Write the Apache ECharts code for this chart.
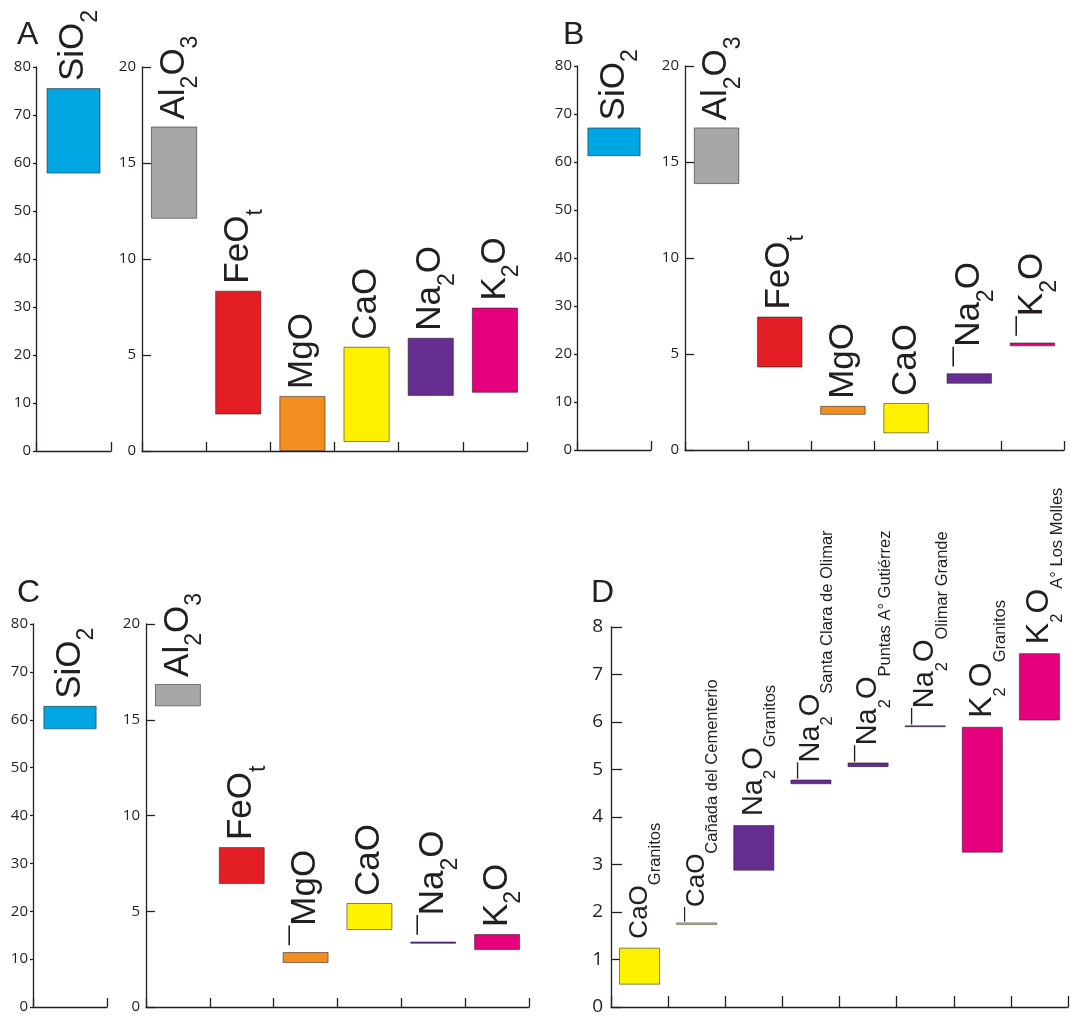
<!DOCTYPE html>
<html>
<head>
<meta charset="utf-8">
<script src="https://cdn.jsdelivr.net/npm/echarts@6/dist/echarts.min.js"></script>
<style>
html, body { margin: 0; padding: 0; background: #fff; }
#chart { width: 1070px; height: 1017px; }
</style>
</head>
<body>
<div id="chart"></div>
<script>
// panels A-C : SiO2 on its own 0-80 axis, the rest on a 0-20 axis
const oxides = ['SiO2', 'Al2O3', 'FeOt', 'MgO', 'CaO', 'Na2O', 'K2O'];
const oxideLabels = ['SiO_2', 'Al_2O_3', 'FeO_t', 'MgO', 'CaO', 'Na_2O', 'K_2O'];
const oxideColors = ['#00a6e2', '#a7a7a7', '#e31e25', '#f28d22', '#fff100', '#662d90', '#e6007e'];

const lowA = [57.8, 12.1, 1.9, 0, 0.47, 2.87, 3.03];
const highA = [75.6, 16.9, 8.35, 2.87, 5.43, 5.9, 7.47];
const lowB = [61.2, 13.85, 4.3, 1.83, 0.87, 3.45, 5.4];
const highB = [67.2, 16.8, 6.95, 2.3, 2.45, 4.0, 5.6];
const lowC = [58.0, 15.7, 6.42, 2.3, 4.02, 3.3, 2.98];
const highC = [62.9, 16.87, 8.35, 2.87, 5.43, 3.42, 3.81];

// little stroke in front of some labels (as in the original figure)
const marksA = [0, 0, 0, 0, 0, 0, 0];
const marksB = [0, 0, 0, 0, 0, 1, 1];
const marksC = [0, 0, 0, 1, 0, 1, 0];

const siTicks = { min: 0, max: 80, interval: 10 };
const oxTicks = { min: 0, max: 20, interval: 5 };

// panel D
const dOxides = ['CaO', 'CaO', 'Na_2O', 'Na_2O', 'Na_2O', 'Na_2O', 'K_2O', 'K_2O'];
const dPlaces = ['Granitos', 'Cañada del Cementerio', 'Granitos', 'Santa Clara de Olimar',
  'Puntas A° Gutiérrez', 'Olimar Grande', 'Granitos', 'A° Los Molles'];
const dLow = [0.47, 1.73, 2.87, 4.69, 5.05, 5.89, 3.25, 6.03];
const dHigh = [1.25, 1.78, 3.83, 4.79, 5.15, 5.93, 5.90, 7.45];
const dColors = ['#fff100', '#fff100', '#662d90', '#662d90', '#662d90', '#662d90', '#e6007e', '#e6007e'];
const dMarks = [0, 1, 0, 1, 1, 1, 0, 0];
const dTicks = { min: 0, max: 8, interval: 1 };

const INK = '#231f20';
const FONT = '"Liberation Sans", Arial, sans-serif';
const NUMFONT = '"Open Sans", sans-serif';

// font sizes of the oxide names in panel D
const dMainSize = { 'CaO': 26, 'Na_2O': 29, 'K_2O': 32 };
const dSubSize = 16.5;

const rich = {
  b: { fontFamily: FONT, fontSize: 35, lineHeight: 35, color: INK, verticalAlign: 'middle' },
  s: { fontFamily: FONT, fontSize: 23, lineHeight: 23, color: INK, verticalAlign: 'middle', padding: [34, 0, 0, 0] }
};
Object.keys(dMainSize).forEach(function (k) {
  const S = dMainSize[k];
  rich['m' + S] = { fontFamily: FONT, fontSize: S, lineHeight: S, color: INK, verticalAlign: 'middle' };
  rich['p' + S] = {
    fontFamily: FONT, fontSize: dSubSize, lineHeight: dSubSize, color: INK, verticalAlign: 'middle',
    padding: [Math.round(2 * (0.35 * S + 1 + 0.366 * dSubSize)), 0, 0, 0]
  };
});

// 'Al_2O_3' -> {b|Al}{s|2}{b|O}{s|3}
function richText(markup, mark, b, s) {
  let out = mark ? '{' + b + '|¯}' : '';
  markup.split(/(_.)/).forEach(function (p) {
    if (!p) return;
    out += p[0] === '_' ? '{' + s + '|' + p[1] + '}' : '{' + b + '|' + p + '}';
  });
  return out;
}

const grids = [];
const xAxes = [];
const yAxes = [];
const series = [];

function addPanel(box, cats, low, high, colors, labels, marks, ticks, opt) {
  const idx = grids.length;
  grids.push({ left: box[0], top: box[1], width: box[2], height: box[3], containLabel: false, outerBoundsMode: 'none' });
  xAxes.push({
    type: 'category', gridIndex: idx, data: cats,
    axisLine: { show: true, lineStyle: { color: INK, width: 1.3 } },
    axisTick: { show: true, inside: true, interval: 0, length: opt.xTick, lineStyle: { color: INK, width: 1.3 } },
    axisLabel: { show: false, interval: 0 }, splitLine: { show: false }
  });
  yAxes.push({
    type: 'value', gridIndex: idx, min: ticks.min, max: ticks.max, interval: ticks.interval,
    axisLine: { show: true, lineStyle: { color: INK, width: 1.3 } },
    axisTick: { show: opt.yTick > 0, inside: opt.yInside, length: opt.yTick, lineStyle: { color: INK, width: 1.3 } },
    axisLabel: { color: INK, fontFamily: NUMFONT, fontSize: opt.font, margin: opt.margin },
    splitLine: { show: false }
  });
  const stack = 'range' + idx;
  series.push({
    type: 'bar', xAxisIndex: idx, yAxisIndex: idx, stack: stack, barWidth: '72%', silent: true,
    itemStyle: { color: 'transparent' }, data: low
  });
  series.push({
    type: 'bar', xAxisIndex: idx, yAxisIndex: idx, stack: stack, barWidth: '72%',
    data: high.map(function (h, i) {
      return {
        value: +(h - low[i]).toFixed(3),
        itemStyle: { color: colors[i] },
        label: { distance: marks[i] ? opt.markDist : opt.dist }
      };
    }),
    itemStyle: { borderColor: 'rgba(35,31,32,0.55)', borderWidth: 1 },
    label: {
      show: true, position: 'top', distance: opt.dist, rotate: 90, align: 'left', verticalAlign: 'middle',
      formatter: function (p) { return labels[p.dataIndex]; }, rich: rich
    }
  });
}

function oxidePanel(siBox, oxBox, low, high, marks) {
  const labels = oxideLabels.map(function (l, i) { return richText(l, marks[i], 'b', 's'); });
  const sOpt = { xTick: 9, yTick: 3, yInside: false, font: 15, margin: 5, dist: 7, markDist: 7 };
  const oOpt = { xTick: 9, yTick: 9, yInside: true, font: 15, margin: 6, dist: 7, markDist: 7 };
  addPanel(siBox, oxides.slice(0, 1), low.slice(0, 1), high.slice(0, 1), oxideColors.slice(0, 1),
    labels.slice(0, 1), marks.slice(0, 1), siTicks, sOpt);
  addPanel(oxBox, oxides.slice(1), low.slice(1), high.slice(1), oxideColors.slice(1),
    labels.slice(1), marks.slice(1), oxTicks, oOpt);
}

oxidePanel([36, 67, 75, 384], [142, 67, 385, 384], lowA, highA, marksA);
oxidePanel([577, 66, 74, 384], [685, 66, 379, 384], lowB, highB, marksB);
oxidePanel([33, 624, 74, 383], [146, 624, 383, 383], lowC, highC, marksC);

const dLabels = dOxides.map(function (o, i) {
  const S = dMainSize[o];
  return richText(o, dMarks[i], 'm' + S, 'p' + S) + '{p' + S + '|' + dPlaces[i] + '}';
});
addPanel([611, 627, 457, 380], dPlaces, dLow, dHigh, dColors, dLabels, dMarks, dTicks,
  { xTick: 11, yTick: 11, yInside: true, font: 19, margin: 8, dist: 9, markDist: 1 });

const chart = echarts.init(document.getElementById('chart'));
chart.setOption({
  animation: false,
  backgroundColor: '#fff',
  title: [['A', 17, 19], ['B', 563, 19], ['C', 17, 577], ['D', 591, 577]].map(function (t) {
    return { text: t[0], left: t[1], top: t[2], padding: 0,
      textStyle: { fontFamily: FONT, fontSize: 32, fontWeight: 'normal', color: INK } };
  }),
  grid: grids,
  xAxis: xAxes,
  yAxis: yAxes,
  series: series
});
</script>
</body>
</html>
